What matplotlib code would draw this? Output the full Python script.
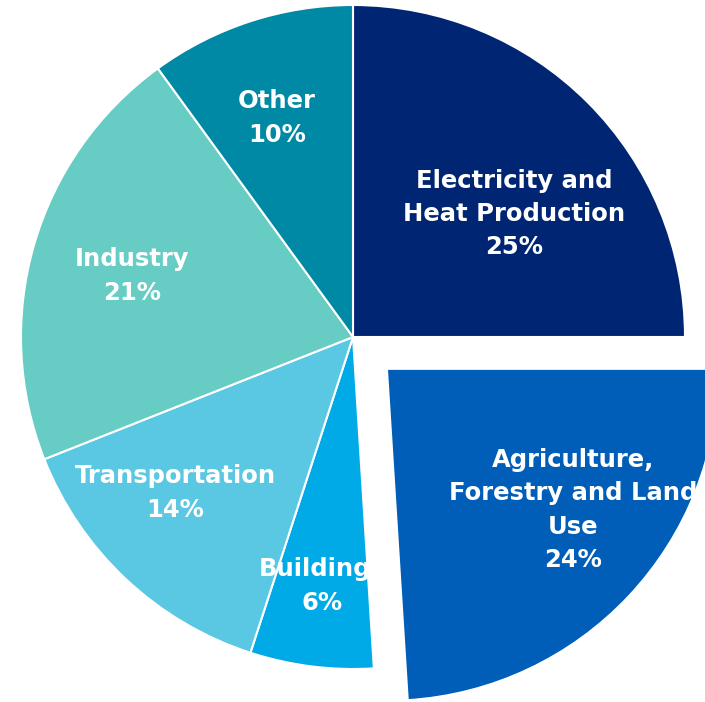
import matplotlib
matplotlib.use("Agg")
import matplotlib.pyplot as plt
from matplotlib.patches import Rectangle

categories = ["Electricity and\nHeat Production", "Agriculture,\nForestry and Land\nUse",
              "Buildings", "Transportation", "Industry", "Other"]
shares = [25, 24, 6, 14, 21, 10]
colors = ["#002673", "#005EB8", "#00AAE6", "#5AC8E2", "#66CCC4", "#0089A4"]
explode = [0, 46.5, 0, 0, 0, 0]

W, H = 705, 702
fig = plt.figure(figsize=(W / 100, H / 100), dpi=100)
ax = fig.add_axes([0, 0, 1, 1])

cx, cy = 353, H - 337
R = 332
wedges, _ = ax.pie(shares, colors=colors, explode=explode, startangle=90,
                   counterclock=False, radius=R, center=(cx, cy),
                   wedgeprops=dict(edgecolor="white", linewidth=1.5))
ax.set_xlim(0, W)
ax.set_ylim(0, H)
ax.set_aspect("equal")
ax.axis("off")

# label block centres in image pixel coordinates (x, y from top)
label_pos = [(514, 214), (573, 510), (322, 586), (175, 493), (132, 276), (277, 118)]
font = dict(family=["DejaVu Sans"], fontweight="bold", color="white",
            fontsize=17.5, ha="center", va="center", linespacing=1.48)
for i, (cat, v) in enumerate(zip(categories, shares)):
    x, y = label_pos[i]
    t = ax.text(x, H - y, f"{cat}\n{v}%", **font)
    if i == 1:
        t.set_clip_path(wedges[1])
    if i == 2:
        clip = Rectangle((0, 0), 369, H, transform=ax.transData)
        t.set_clip_path(clip)

fig.savefig("out.png", dpi=100)
